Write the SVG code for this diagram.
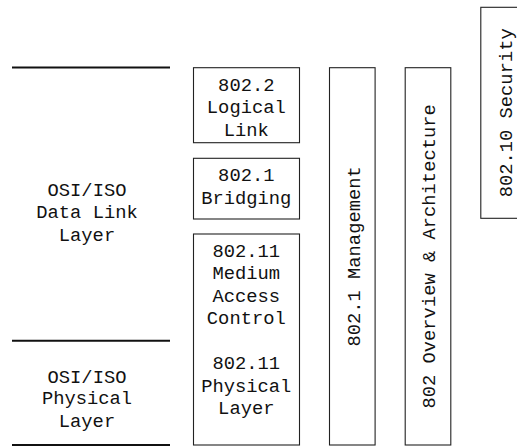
<svg xmlns="http://www.w3.org/2000/svg" width="517" height="446" viewBox="0 0 517 446">
<style>
  .box{fill:#fff;stroke:#222;stroke-width:1.1}
  .sep{stroke:#111;stroke-width:2}
  text{font-family:"Liberation Mono","DejaVu Sans Mono",monospace;font-size:18.8px;fill:#111;text-anchor:middle}
</style>
<rect width="517" height="446" fill="#fff"/>
<g id="connectors">
  <line class="sep" x1="12" y1="67.5" x2="170" y2="67.5"/>
  <line class="sep" x1="12" y1="340.7" x2="170" y2="340.7"/>
  <line class="sep" x1="12" y1="445" x2="170" y2="445"/>
</g>
<g id="osi-datalink">
  <text x="87" y="195.7">OSI/ISO</text>
  <text x="87" y="218.3">Data Link</text>
  <text x="87" y="240.7">Layer</text>
</g>
<g id="osi-physical">
  <text x="87" y="382.7">OSI/ISO</text>
  <text x="87" y="404.3">Physical</text>
  <text x="87" y="426.7">Layer</text>
</g>
<g id="llc">
  <rect class="box" x="193.5" y="67.7" width="106" height="75"/>
  <text x="246.3" y="90.7">802.2</text>
  <text x="246.3" y="113.3">Logical</text>
  <text x="246.3" y="136">Link</text>
</g>
<g id="bridging">
  <rect class="box" x="193.5" y="158.3" width="106" height="60.7"/>
  <text x="246.3" y="181">802.1</text>
  <text x="246.3" y="203.5">Bridging</text>
</g>
<g id="mac-phy">
  <rect class="box" x="193.5" y="234" width="106" height="211"/>
  <text x="246.3" y="256.7">802.11</text>
  <text x="246.3" y="279.2">Medium</text>
  <text x="246.3" y="301.7">Access</text>
  <text x="246.3" y="324.3">Control</text>
  <text x="246.3" y="369.3">802.11</text>
  <text x="246.3" y="391.8">Physical</text>
  <text x="246.3" y="414.3">Layer</text>
</g>
<g id="management">
  <rect class="box" x="329.5" y="67.7" width="45.6" height="377.3"/>
  <text transform="translate(360,256.4) rotate(-90)">802.1 Management</text>
</g>
<g id="overview">
  <rect class="box" x="405.2" y="67.7" width="45.6" height="377.3"/>
  <text transform="translate(435,256.4) rotate(-90)">802 Overview &amp; Architecture</text>
</g>
<g id="security">
  <rect class="box" x="480.8" y="7.3" width="45.6" height="211"/>
  <text transform="translate(511.5,112.8) rotate(-90)">802.10 Security</text>
</g>
</svg>
